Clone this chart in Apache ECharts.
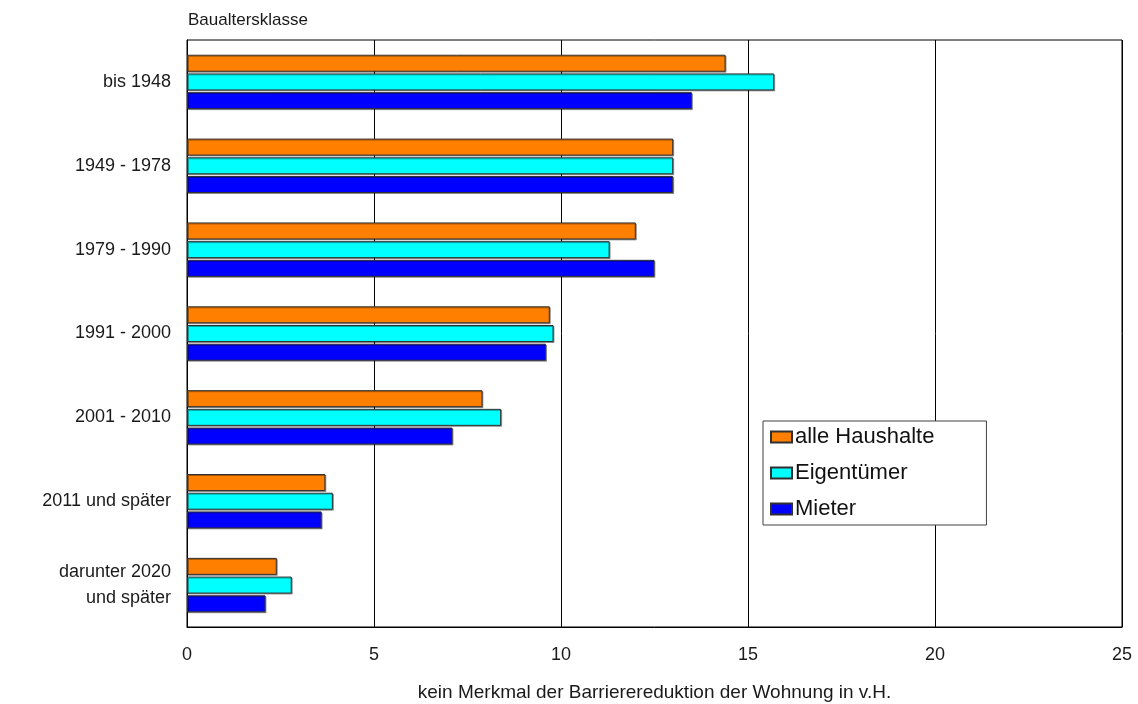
<!DOCTYPE html>
<html>
<head>
<meta charset="utf-8">
<script src="https://cdn.jsdelivr.net/npm/echarts@6/dist/echarts.min.js"></script>
<style>
  html, body { margin: 0; padding: 0; background: #fff; }
  #chart { width: 1138px; height: 704px; }
</style>
</head>
<body>
<div id="chart"></div>
<script>
const categories = ['bis 1948', '1949 - 1978', '1979 - 1990', '1991 - 2000', '2001 - 2010', '2011 und später', 'darunter 2020\nund später'];
const alleHaushalte = [14.4, 13.0, 12.0, 9.7, 7.9, 3.7, 2.4];
const eigentuemer = [15.7, 13.0, 11.3, 9.8, 8.4, 3.9, 2.8];
const mieter = [13.5, 13.0, 12.5, 9.6, 7.1, 3.6, 2.1];
const seriesNames = ['alle Haushalte', 'Eigentümer', 'Mieter'];
const xTicks = [0, 5, 10, 15, 20, 25];

const font = 'Liberation Sans, Arial, sans-serif';
const colors = ['#ff8000', '#00ffff', '#0000ff'];

const chart = echarts.init(document.getElementById('chart'), null, { renderer: 'canvas' });

function barSeries(name, data, color) {
  return {
    name: name,
    type: 'bar',
    data: data,
    barWidth: 17,
    barGap: '10%',
    itemStyle: {
      color: color,
      borderColor: '#303030',
      borderWidth: 1,
      shadowColor: 'rgba(0,0,0,0.35)',
      shadowOffsetX: 1,
      shadowOffsetY: 1,
      shadowBlur: 0,
    },
  };
}

const option = {
  backgroundColor: '#fff',
  animation: false,
  textStyle: { fontFamily: font, color: '#1a1a1a' },
  title: {
    text: 'Baualtersklasse',
    left: 183,
    top: 7,
    textStyle: { fontFamily: font, fontSize: 17, fontWeight: 'normal', color: '#1a1a1a' },
  },
  grid: {
    left: 187,
    right: 16,
    top: 40,
    bottom: 77,
    outerBoundsMode: 'none',
    show: true,
    borderColor: '#000',
    borderWidth: 1,
  },
  legend: {
    orient: 'vertical',
    left: 763,
    top: 421,
    data: seriesNames,
    icon: 'rect',
    itemWidth: 21,
    itemHeight: 11,
    itemGap: 12,
    padding: [4, 52, 4, 7],
    backgroundColor: '#fff',
    borderColor: '#404040',
    borderWidth: 1,
    textStyle: { fontFamily: font, fontSize: 22, color: '#111', lineHeight: 24, padding: [0, 0, 0, -2] },
  },
  xAxis: {
    type: 'value',
    min: xTicks[0],
    max: xTicks[xTicks.length - 1],
    interval: 5,
    name: 'kein Merkmal der Barrierereduktion der Wohnung in v.H.',
    nameLocation: 'middle',
    nameGap: 56,
    nameTextStyle: { fontFamily: font, fontSize: 19, color: '#1a1a1a' },
    axisLine: { show: true, lineStyle: { color: '#000', width: 1 } },
    axisTick: { show: false },
    axisLabel: { margin: 19, fontFamily: font, fontSize: 18, color: '#1a1a1a' },
    splitLine: { show: true, lineStyle: { color: '#000', width: 1 } },
  },
  yAxis: {
    type: 'category',
    inverse: true,
    data: categories,
    axisLine: { show: true, lineStyle: { color: '#000', width: 1 } },
    axisTick: { show: false },
    axisLabel: { margin: 16, fontFamily: font, fontSize: 18, lineHeight: 26, color: '#1a1a1a', align: 'right' },
    splitLine: { show: false },
  },
  series: [
    barSeries(seriesNames[0], alleHaushalte, colors[0]),
    barSeries(seriesNames[1], eigentuemer, colors[1]),
    barSeries(seriesNames[2], mieter, colors[2]),
  ],
};

chart.setOption(option);
</script>
</body>
</html>
